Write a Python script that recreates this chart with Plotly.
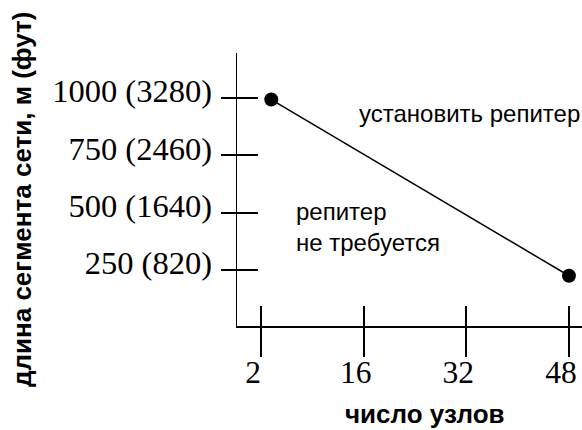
import plotly.graph_objects as go

# Data
tick_positions = [0, 1, 2, 3]
node_labels = ["2", "16", "32", "48"]
y_ticks = [250, 500, 750, 1000]
y_tick_labels = ["250 (820)", "500 (1640)", "750 (2460)", "1000 (3280)"]
line_x = [0.1, 3.0]          # positions along the node axis
line_y = [993, 225]          # segment length, m

SANS = "Liberation Sans, Arial, sans-serif"
SERIF = "Liberation Serif, Times New Roman, serif"

W, H = 582, 430
L, R, T, B = 237, 0, 53, 104
XR = [-0.234, 3.127]
YR = [6, 1196]

fig = go.Figure()
fig.add_trace(go.Scatter(
    x=line_x, y=line_y, mode="lines+markers",
    line=dict(color="black", width=1.5),
    marker=dict(color="black", size=14),
    showlegend=False, hoverinfo="skip", cliponaxis=False,
))
fig.add_trace(go.Scatter(x=[None], y=[None], xaxis="x2", yaxis="y2",
                         showlegend=False, hoverinfo="skip"))

common_x = dict(range=XR, tickvals=tick_positions, showgrid=False, zeroline=False,
                tickcolor="black", tickwidth=2, fixedrange=True,
                ticklabeloverflow="allow")
common_y = dict(range=YR, tickvals=y_ticks, showgrid=False, zeroline=False,
                tickcolor="black", tickwidth=2, fixedrange=True,
                ticklabeloverflow="allow")

fig.update_layout(
    width=W, height=H,
    margin=dict(l=L, r=R, t=T, b=B, autoexpand=False),
    paper_bgcolor="white", plot_bgcolor="white",
    xaxis=dict(**common_x, ticktext=node_labels, ticks="outside", ticklen=29,
               showline=True, linecolor="black", linewidth=1.5,
               tickfont=dict(family=SERIF, size=31.5, color="black"),
               ticklabelstandoff=-11, ticklabelshift=-8),
    xaxis2=dict(**common_x, overlaying="x", ticks="inside", ticklen=20,
                showticklabels=False, showline=False, anchor="y2"),
    yaxis=dict(**common_y, ticktext=y_tick_labels, ticks="outside", ticklen=15,
               showline=True, linecolor="black", linewidth=1.5,
               tickfont=dict(family=SERIF, size=32.5, color="black"),
               ticklabelstandoff=2, ticklabelshift=-7),
    yaxis2=dict(**common_y, overlaying="y", ticks="inside", ticklen=21,
                showticklabels=False, showline=False, anchor="x2"),
)

def px_x(p):
    return (p - L) / (W - L - R)

def px_y(p):
    return (H - B - p) / (H - T - B)

annots = [
    dict(text="установить репитер", x=px_x(357), y=px_y(113), xanchor="left",
         font=dict(family=SANS, size=24, color="black")),
    dict(text="репитер", x=px_x(294), y=px_y(212), xanchor="left",
         font=dict(family=SANS, size=24, color="black")),
    dict(text="не требуется", x=px_x(294), y=px_y(242), xanchor="left",
         font=dict(family=SANS, size=24, color="black")),
    dict(text="<b>число узлов</b>", x=px_x(425), y=px_y(414), xanchor="center",
         font=dict(family=SANS, size=26, color="black")),
    dict(text="<b>длина сегмента сети, м (фут)</b>", x=px_x(22), y=px_y(200),
         xanchor="center", textangle=-90,
         font=dict(family=SANS, size=26, color="black")),
]
for a in annots:
    fig.add_annotation(xref="paper", yref="paper", yanchor="middle",
                       showarrow=False, **a)

# remove the browser's default 8px page margin so the figure fills the window
fig.write_html("out.html",
               config={"displayModeBar": False, "staticPlot": True},
               post_script="document.body.style.margin='0';"
                           "document.body.style.overflow='hidden';")
